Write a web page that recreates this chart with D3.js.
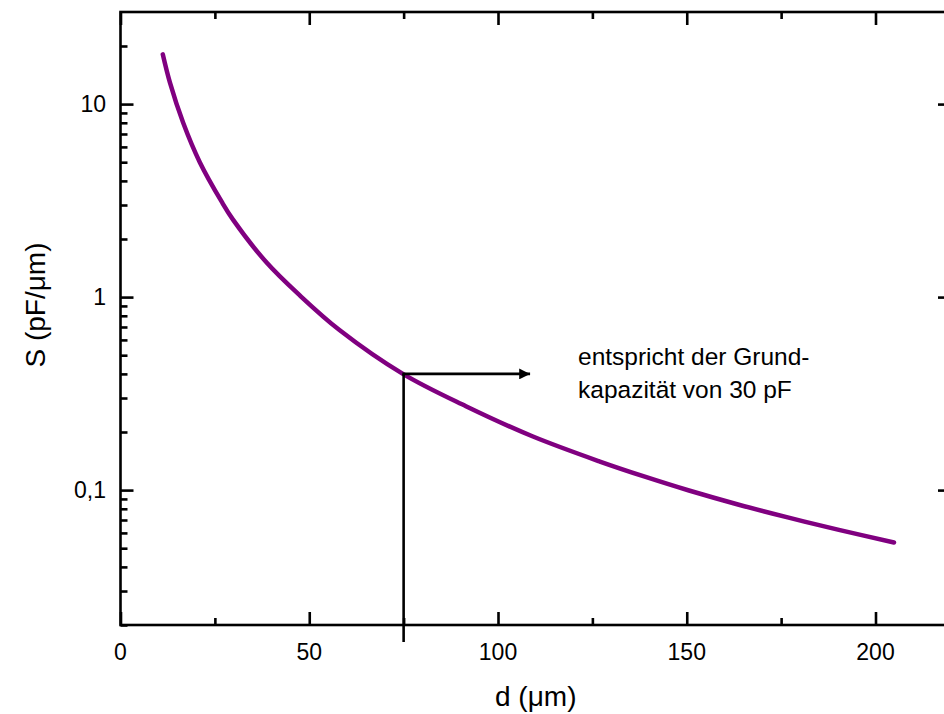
<!DOCTYPE html>
<html>
<head>
<meta charset="utf-8">
<script src="https://cdn.jsdelivr.net/npm/d3@7"></script>
<style>
  html, body { margin: 0; padding: 0; background: #fff; }
  svg { display: block; }
  text { font-family: "Liberation Sans", Arial, sans-serif; fill: #000; }
</style>
</head>
<body>
<svg id="chart" width="944" height="714"></svg>
<script>
// ---- data ----
const dValues = [11.2, 13.1, 16.6, 21.0, 26.8, 29.8, 38.7, 47.5, 58.0, 74.8, 91.5, 109.1, 126.8, 139.1, 150.6, 163.8, 177.0, 190.3, 204.9];
const sValues = [18.1, 12.9, 8.0, 5.0, 3.12, 2.52, 1.51, 1.02, 0.675, 0.40, 0.272, 0.190, 0.141, 0.117, 0.0995, 0.0840, 0.0720, 0.0622, 0.0535];
const xMajorTicks = [0, 50, 100, 150, 200];
const xMinorTicks = [25, 75, 125, 175];
const yMajorTicks = [0.1, 1, 10];
const yMajorLabels = ["0,1", "1", "10"];
const yMinorTicks = [0.02,0.03,0.04,0.05,0.06,0.07,0.08,0.09,0.2,0.3,0.4,0.5,0.6,0.7,0.8,0.9,2,3,4,5,6,7,8,9,20];
const markerD = 75, markerS = 0.4, arrowEndD = 108.5;
const noteLines = ["entspricht der Grund-", "kapazität von 30 pF"];

(function () {
const svg = d3.select("#chart");
const pl = 120.5, pr = 951, pt = 12, pb = 625;
const x = d3.scaleLinear().domain([0, 220]).range([pl, pr]);
const y = d3.scaleLog().domain([0.02, 30]).range([pb, pt]);

const MAJ = 13, MIN = 7, AX = 2.6;

// curve
const line = d3.line().x(d => x(d[0])).y(d => y(d[1])).curve(d3.curveCatmullRom.alpha(0.5));
svg.append("path")
  .datum(dValues.map((d, i) => [d, sValues[i]]))
  .attr("d", line)
  .attr("fill", "none")
  .attr("stroke", "#800080")
  .attr("stroke-width", 4.5)
  .attr("stroke-linecap", "round");

// frame
svg.append("rect").attr("x", pl).attr("y", pt).attr("width", pr - pl).attr("height", pb - pt)
  .attr("fill", "none").attr("stroke", "#000").attr("stroke-width", AX);

function styleAxis(g) {
  g.select(".domain").remove();
  g.selectAll("line").attr("stroke", "#000").attr("stroke-width", AX);
}

// bottom axis (ticks inward)
const bottomAxis = svg.append("g").attr("transform", `translate(0,${pb})`);
bottomAxis.append("g").call(d3.axisTop(x).tickValues(xMajorTicks).tickSize(MAJ).tickFormat("")).call(styleAxis);
bottomAxis.append("g").call(d3.axisTop(x).tickValues(xMinorTicks).tickSize(MIN).tickFormat("")).call(styleAxis);
svg.append("g").selectAll("text").data(xMajorTicks).join("text")
  .attr("x", d => x(d)).attr("y", 660)
  .attr("text-anchor", "middle").attr("font-size", 23)
  .text(d => d);

// top axis
const topAxis = svg.append("g").attr("transform", `translate(0,${pt})`);
topAxis.append("g").call(d3.axisBottom(x).tickValues(xMajorTicks).tickSize(MAJ).tickFormat("")).call(styleAxis);
topAxis.append("g").call(d3.axisBottom(x).tickValues(xMinorTicks).tickSize(MIN).tickFormat("")).call(styleAxis);

// left axis
const leftAxis = svg.append("g").attr("transform", `translate(${pl},0)`);
leftAxis.append("g").call(d3.axisRight(y).tickValues(yMajorTicks).tickSize(MAJ).tickFormat("")).call(styleAxis);
leftAxis.append("g").call(d3.axisRight(y).tickValues(yMinorTicks).tickSize(MIN).tickFormat("")).call(styleAxis);
svg.append("g").selectAll("text").data(yMajorTicks).join("text")
  .attr("x", 106).attr("y", d => y(d)).attr("dy", "0.36em")
  .attr("text-anchor", "end").attr("font-size", 23)
  .text((d, i) => yMajorLabels[i]);

// right axis (major ticks only)
const rightAxis = svg.append("g").attr("transform", `translate(${pr},0)`);
rightAxis.append("g").call(d3.axisLeft(y).tickValues(yMajorTicks).tickSize(MAJ).tickFormat("")).call(styleAxis);

// axis titles
svg.append("text").attr("x", (pl + pr) / 2).attr("y", 706)
  .attr("text-anchor", "middle").attr("font-size", 28)
  .text("d (μm)");
svg.append("text").attr("transform", `translate(45,305) rotate(-90)`)
  .attr("text-anchor", "middle").attr("font-size", 28)
  .text("S (pF/μm)");

// annotation
const defs = svg.append("defs");
defs.append("marker").attr("id", "arr").attr("viewBox", "0 0 10 10")
  .attr("refX", 10).attr("refY", 5).attr("markerWidth", 7.5).attr("markerHeight", 4.2)
  .attr("markerUnits", "strokeWidth").attr("orient", "auto")
  .append("path").attr("d", "M0,0 L10,5 L0,10 Z").attr("fill", "#000");
svg.append("line")
  .attr("x1", x(markerD)).attr("x2", x(markerD))
  .attr("y1", pb + 17).attr("y2", y(markerS))
  .attr("stroke", "#000").attr("stroke-width", 2.6);
svg.append("line")
  .attr("x1", x(markerD) - 1.3).attr("x2", x(arrowEndD))
  .attr("y1", y(markerS)).attr("y2", y(markerS))
  .attr("stroke", "#000").attr("stroke-width", 2.6)
  .attr("marker-end", "url(#arr)");
svg.append("g").selectAll("text").data(noteLines).join("text")
  .attr("x", 578).attr("y", (d, i) => 365 + i * 33)
  .attr("font-size", 24.5)
  .text(d => d);
})();
</script>
</body>
</html>
